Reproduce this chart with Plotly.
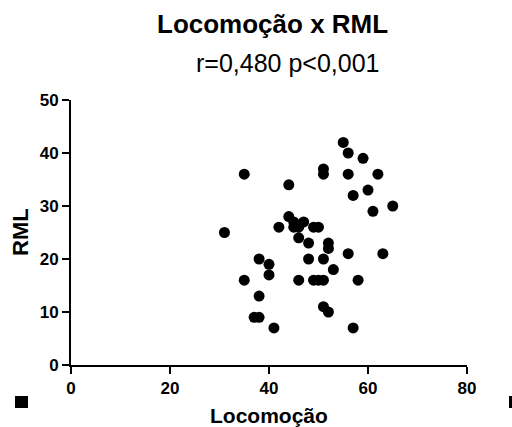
import plotly.graph_objects as go

locomocao = [55, 56, 59, 51, 51, 56, 62, 35, 44, 60, 57, 65, 61, 44, 45, 47, 46,
             42, 45, 49, 50, 31, 46, 48, 52, 52, 56, 63, 38, 40, 48, 51, 53, 40,
             35, 46, 49, 50, 51, 58, 38, 51, 52, 37, 38, 41, 57]
rml = [42, 40, 39, 37, 36, 36, 36, 36, 34, 33, 32, 30, 29, 28, 27, 27, 26,
       26, 26, 26, 26, 25, 24, 23, 23, 22, 21, 21, 20, 19, 20, 20, 18, 17,
       16, 16, 16, 16, 16, 16, 13, 11, 10, 9, 9, 7, 7]

x_ticks = [0, 20, 40, 60, 80]
y_ticks = [0, 10, 20, 30, 40, 50]

W, H = 512, 427
L, R, T, B = 71, 45, 100, 62

fig = go.Figure(go.Scatter(
    x=locomocao, y=rml, mode="markers",
    marker=dict(color="black", size=11, line=dict(width=0)),
    cliponaxis=False, showlegend=False))

fnt = "Arial, Liberation Sans, sans-serif"
axis_common = dict(showline=True, linecolor="black", linewidth=2, ticks="outside",
                   ticklen=7, tickwidth=2, tickcolor="black", showgrid=False,
                   zeroline=False, automargin=False,
                   tickfont=dict(family=fnt, size=17, color="black", weight="bold"))

fig.update_xaxes(range=[0, 80], tickvals=x_ticks, **axis_common)
fig.update_yaxes(range=[0, 50], tickvals=y_ticks, **axis_common)

def px(xp):
    return (xp - L) / (W - L - R)

def py(yp):
    return (H - B - yp) / (H - T - B)

fig.update_layout(
    width=W, height=H, margin=dict(l=L, r=R, t=T, b=B),
    plot_bgcolor="white", paper_bgcolor="white",
    annotations=[
        dict(text="<b>Locomoção x RML</b>", x=px(272), y=py(24), xref="paper", yref="paper",
             showarrow=False, font=dict(family=fnt, size=26, color="black"),
             xanchor="center", yanchor="middle"),
        dict(text="r=0,480 p<0,001", x=px(288), y=py(63), xref="paper", yref="paper",
             showarrow=False, font=dict(family=fnt, size=25, color="black"),
             xanchor="center", yanchor="middle"),
        dict(text="<b>Locomoção</b>", x=px(269), y=py(415), xref="paper", yref="paper",
             showarrow=False, font=dict(family=fnt, size=21, color="black"),
             xanchor="center", yanchor="middle"),
        dict(text="<b>RML</b>", x=px(20), y=py(232), xref="paper", yref="paper",
             showarrow=False, textangle=-90, font=dict(family=fnt, size=22, color="black"),
             xanchor="center", yanchor="middle"),
    ],
    shapes=[
        dict(type="rect", xref="paper", yref="paper", x0=px(15), x1=px(28), y0=py(408), y1=py(396),
             fillcolor="black", line=dict(width=0)),
        dict(type="rect", xref="paper", yref="paper", x0=px(509), x1=px(513), y0=py(408), y1=py(396),
             fillcolor="black", line=dict(width=0)),
    ],
)

fig.write_html("out.html", config={"displayModeBar": False},
               post_script="document.body.style.margin='0px';")
